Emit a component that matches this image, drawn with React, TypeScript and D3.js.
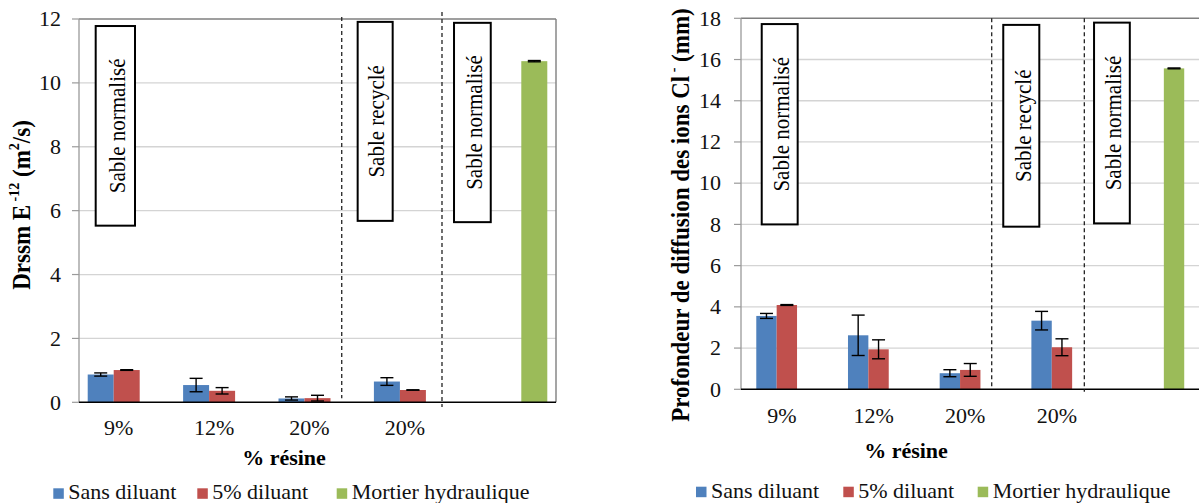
import React from "react";
import * as d3 from "d3";

// ---------- DATA ----------
const categories = ["9%", "12%", "20%", "20%", ""];
const seriesNames = ["Sans diluant", "5% diluant", "Mortier hydraulique"];
const seriesColors = ["#4f81bd", "#c0504d", "#9bbb59"];

// Left chart: Drssm (E-12 m²/s)
const leftSans = [0.87, 0.54, 0.12, 0.65, null];
const leftSansErr = [0.05, 0.21, 0.05, 0.12, null];
const leftDil = [1.01, 0.36, 0.13, 0.385, null];
const leftDilErr = [0.01, 0.1, 0.09, 0.005, null];
const leftMort = [null, null, null, null, 10.68];
const leftMortErr = [null, null, null, null, 0.02];
const leftTicks = [0, 2, 4, 6, 8, 10, 12];

// Right chart: profondeur de diffusion (mm)
const rightSans = [3.56, 2.62, 0.78, 3.33, null];
const rightSansErr = [0.12, 0.98, 0.17, 0.45, null];
const rightDil = [4.09, 1.94, 0.94, 2.04, null];
const rightDilErr = [0.02, 0.46, 0.31, 0.41, null];
const rightMort = [null, null, null, null, 15.57];
const rightMortErr = [null, null, null, null, 0.02];
const rightTicks = [0, 2, 4, 6, 8, 10, 12, 14, 16, 18];

const boxLabels = ["Sable normalisé", "Sable recyclé", "Sable normalisé"];
const xTitle = "% résine";

// ---------- LAYOUT ----------
const FONT = '"Liberation Serif", Tinos, "Times New Roman", serif';
const SX = 1.1;

const leftCfg = {
  values: [leftSans, leftDil, leftMort],
  errs: [leftSansErr, leftDilErr, leftMortErr],
  ticks: leftTicks,
  yMax: 12,
  left: 79,
  right: 556,
  top: 19,
  bottom: 402.3,
  gap: 0.67,
  labelShift: -8,
  tickLabelX: 61,
  xLabelY: 435,
  xTitleX: 284,
  xTitleY: 465,
  yTitle: { x: 22, y: 205, kind: "left" },
  boxes: [
    { u0: 0.175, u1: 0.587, v0: 11.78, v1: 5.53 },
    { u0: 2.921, u1: 3.288, v0: 11.91, v1: 5.68 },
    { u0: 3.931, u1: 4.316, v0: 11.88, v1: 5.64 },
  ],
  dashes: [
    { u: 2.754, v0: 12.06, v1: 0.13 },
    { u: 3.805, v0: 12.22, v1: -0.15 },
  ],
  legend: { y: 488.3, base: 498.6, items: [53.3, 197.3, 336.7] },
  drawRightBorder: true,
};

const rightCfg = {
  values: [rightSans, rightDil, rightMort],
  errs: [rightSansErr, rightDilErr, rightMortErr],
  ticks: rightTicks,
  yMax: 18,
  left: 741,
  right: 1199.5,
  top: 18.3,
  bottom: 389.3,
  gap: 1.5,
  labelShift: -5,
  tickLabelX: 721,
  xLabelY: 423,
  xTitleX: 906,
  xTitleY: 458,
  yTitle: { x: 681, y: 215, kind: "right" },
  boxes: [
    { u0: 0.226, u1: 0.618, v0: 17.72, v1: 8.0 },
    { u0: 2.86, u1: 3.253, v0: 17.68, v1: 7.89 },
    { u0: 3.85, u1: 4.24, v0: 17.79, v1: 8.05 },
  ],
  dashes: [
    { u: 2.734, v0: 18.0, v1: 0.13 },
    { u: 3.744, v0: 18.0, v1: -0.12 },
  ],
  legend: { y: 486.7, base: 497.8, items: [696, 843.3, 977.7] },
  drawRightBorder: false,
};

function HText({ x, y, children, anchor = "start", size = 20, weight = "normal", fill = "#000" }: any) {
  return (
    <text
      transform={`translate(${x},${y}) scale(${SX},1)`}
      textAnchor={anchor}
      fontSize={size}
      fontWeight={weight}
      style={{ fontFamily: FONT }}
      fill={fill}
    >
      {children}
    </text>
  );
}

function Chart({ cfg }: any) {
  const idx = d3.range(categories.length);
  const x = d3.scaleBand<number>().domain(idx).range([cfg.left, cfg.right]).paddingInner(0).paddingOuter(0);
  const step = x.step();
  const xs = d3.scaleBand<number>().domain([0, 1, 2]).range([0, step]).paddingInner(0).paddingOuter(cfg.gap / 2);
  const bw = xs.bandwidth();
  const y = d3.scaleLinear().domain([0, cfg.yMax]).range([cfg.bottom, cfg.top]);
  const xu = (u: number) => cfg.left + u * step;
  const cap = 6.5;

  return (
    <g>
      {cfg.ticks.filter((t: number) => t !== 0 && t !== cfg.yMax).map((t: number) => (
        <line key={"g" + t} x1={cfg.left} x2={cfg.right} y1={y(t)} y2={y(t)} stroke="#d4d4d4" strokeWidth={1.3} />
      ))}
      {cfg.ticks.map((t: number) => (
        <line key={"tm" + t} x1={cfg.left - 7} x2={cfg.left} y1={y(t)} y2={y(t)} stroke="#9a9a9a" strokeWidth={1.2} />
      ))}
      <line x1={cfg.left} x2={cfg.right} y1={y(cfg.yMax)} y2={y(cfg.yMax)} stroke="#7f7f7f" strokeWidth={1.6} />
      {cfg.drawRightBorder && (
        <line x1={cfg.right} x2={cfg.right} y1={y(cfg.yMax)} y2={y(0)} stroke="#7f7f7f" strokeWidth={1.4} />
      )}
      <line x1={cfg.left} x2={cfg.left} y1={y(cfg.yMax)} y2={y(0)} stroke="#9a9a9a" strokeWidth={1.3} />

      {cfg.values.map((vals: (number | null)[], s: number) =>
        vals.map((v, i) =>
          v == null ? null : (
            <rect
              key={`b${s}-${i}`}
              x={(x(i) as number) + (xs(s) as number)}
              width={bw}
              y={y(v)}
              height={y(0) - y(v)}
              fill={seriesColors[s]}
            />
          )
        )
      )}
      {cfg.values.map((vals: (number | null)[], s: number) =>
        vals.map((v, i) => {
          const e = cfg.errs[s][i];
          if (v == null || e == null) return null;
          const cx = (x(i) as number) + (xs(s) as number) + bw / 2;
          return (
            <g key={`e${s}-${i}`} stroke="#000" strokeWidth={1.4}>
              <line x1={cx} x2={cx} y1={y(v + e)} y2={y(v - e)} />
              <line x1={cx - cap} x2={cx + cap} y1={y(v + e)} y2={y(v + e)} />
              <line x1={cx - cap} x2={cx + cap} y1={y(v - e)} y2={y(v - e)} />
            </g>
          );
        })
      )}
      <line x1={cfg.left} x2={cfg.right} y1={y(0)} y2={y(0)} stroke="#000" strokeWidth={1.5} />

      {cfg.dashes.map((d: any, k: number) => (
        <line
          key={"d" + k}
          x1={xu(d.u)}
          x2={xu(d.u)}
          y1={y(d.v0)}
          y2={y(d.v1)}
          stroke="#222"
          strokeWidth={1.3}
          strokeDasharray="4 3"
        />
      ))}

      {cfg.boxes.map((b: any, k: number) => {
        const x0 = xu(b.u0);
        const x1 = xu(b.u1);
        const y0 = y(b.v0);
        const y1 = y(b.v1);
        const cx = (x0 + x1) / 2 + 2;
        const cy = (y0 + y1) / 2;
        return (
          <g key={"bx" + k}>
            <rect x={x0} y={y0} width={x1 - x0} height={y1 - y0} fill="#fff" stroke="#000" strokeWidth={2} />
            <text
              transform={`translate(${cx},${cy}) rotate(-90) scale(1,1.08)`}
              textAnchor="middle"
              dominantBaseline="central"
              fontSize={21}
              style={{ fontFamily: FONT }}
              fill="#000"
            >
              {boxLabels[k]}
            </text>
          </g>
        );
      })}

      {cfg.ticks.map((t: number) => (
        <HText key={"yl" + t} x={cfg.tickLabelX} y={y(t) + 7.2} anchor="end" fill="#111">
          {t}
        </HText>
      ))}
      {categories.map((c, i) => (
        <HText key={"xl" + i} x={(x(i) as number) + step / 2 + cfg.labelShift} y={cfg.xLabelY} anchor="middle" fill="#111">
          {c}
        </HText>
      ))}
      <HText x={cfg.xTitleX} y={cfg.xTitleY} anchor="middle" weight="bold">
        {xTitle}
      </HText>

      <text
        transform={`translate(${cfg.yTitle.x},${cfg.yTitle.y}) rotate(-90) scale(1,1.08)`}
        textAnchor="middle"
        dominantBaseline="central"
        fontSize={23}
        fontWeight="bold"
        style={{ fontFamily: FONT }}
        fill="#000"
      >
        {cfg.yTitle.kind === "left" ? (
          <>
            Drssm E
            <tspan baselineShift="super" fontSize={14}> -12</tspan>
            <tspan> (m</tspan>
            <tspan baselineShift="super" fontSize={14}>2</tspan>
            <tspan>/s)</tspan>
          </>
        ) : (
          <>
            Profondeur de diffusion des ions Cl
            <tspan baselineShift="super" fontSize={14}> -</tspan>
            <tspan> (mm)</tspan>
          </>
        )}
      </text>

      {seriesNames.map((n, s) => (
        <g key={"lg" + s}>
          <rect x={cfg.legend.items[s]} y={cfg.legend.y} width={10.5} height={10.5} fill={seriesColors[s]} />
          <HText x={cfg.legend.items[s] + 15} y={cfg.legend.base} fill="#111">
            {n}
          </HText>
        </g>
      ))}
    </g>
  );
}

export default function App() {
  return (
    <svg
      width={1199}
      height={503}
      style={{ position: "absolute", left: 0, top: 0, background: "#fff" }}
    >
      <rect x={0} y={0} width={1199} height={503} fill="#fff" />
      <Chart cfg={leftCfg} />
      <Chart cfg={rightCfg} />
    </svg>
  );
}
